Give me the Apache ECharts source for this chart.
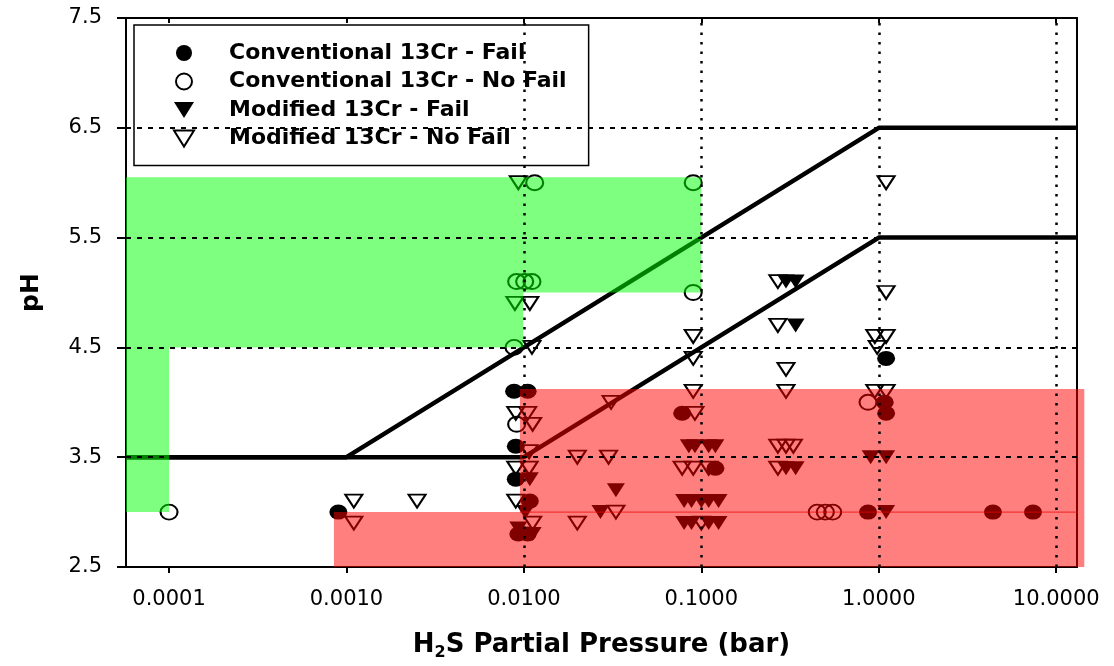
<!DOCTYPE html>
<html>
<head>
<meta charset="utf-8">
<script src="https://cdn.jsdelivr.net/npm/echarts@6/dist/echarts.min.js"></script>
<style>
  html, body { margin: 0; padding: 0; background: #ffffff; }
  #chart { width: 1114px; height: 666px; }
</style>
</head>
<body>
<div id="chart"></div>
<script>
// Axis ticks and ranges
const X_TICKS = [0.0001, 0.001, 0.01, 0.1, 1, 10];
const X_TICK_LABELS = ['0.0001', '0.0010', '0.0100', '0.1000', '1.0000', '10.0000'];
const Y_TICKS = [2.5, 3.5, 4.5, 5.5, 6.5, 7.5];
const X_RANGE = [5.72e-5, 13.1];
const Y_RANGE = [2.5, 7.5];
const PH_GRID = [3.5, 4.5, 5.5, 6.5];

// Test results: [H2S partial pressure (bar), pH]
const conventionalFail = [
  [0.0009, 3.0],
  [0.0088, 4.1], [0.0105, 4.1],
  [0.009, 3.6], [0.009, 3.3], [0.0108, 3.1],
  [0.0093, 2.8], [0.0105, 2.8],
  [0.078, 3.9], [0.12, 3.4],
  [1.1, 4.4], [1.08, 4.0], [1.1, 3.9],
  [0.87, 3.0], [4.4, 3.0], [7.4, 3.0]
];
const conventionalNoFail = [
  [0.0001, 3.0],
  [0.0115, 6.0], [0.09, 6.0],
  [0.0091, 5.1], [0.0101, 5.1], [0.0111, 5.1],
  [0.09, 5.0], [0.0088, 4.5], [0.0091, 3.8],
  [0.45, 3.0], [0.5, 3.0], [0.55, 3.0],
  [0.87, 4.0]
];
const modifiedFail = [
  [0.0108, 3.3], [0.0102, 3.0], [0.0093, 2.85], [0.0112, 2.8],
  [0.027, 3.0], [0.033, 3.2],
  [0.085, 3.6], [0.092, 3.6], [0.11, 3.6], [0.12, 3.6],
  [0.08, 3.1], [0.088, 3.1], [0.1, 3.1], [0.11, 3.1], [0.125, 3.1],
  [0.08, 2.9], [0.088, 2.9], [0.11, 2.9], [0.125, 2.9],
  [0.3, 5.1], [0.34, 5.1], [0.34, 4.7],
  [0.3, 3.4], [0.34, 3.4],
  [0.9, 3.5], [1.1, 3.5], [1.1, 3.0]
];
const modifiedNoFail = [
  [0.0011, 3.1], [0.0011, 2.9], [0.0025, 3.1],
  [0.0093, 6.0], [0.0089, 4.9], [0.0108, 4.9], [0.0111, 4.5],
  [0.009, 3.9], [0.0105, 3.9], [0.0112, 3.8], [0.0107, 3.55],
  [0.009, 3.4], [0.0107, 3.4], [0.009, 3.1], [0.0112, 2.9],
  [0.02, 2.9], [0.02, 3.5], [0.03, 3.5], [0.031, 4.0], [0.033, 3.0],
  [0.09, 4.6], [0.09, 4.4], [0.09, 4.1], [0.092, 3.9],
  [0.078, 3.4], [0.09, 3.4], [0.11, 3.4], [0.1, 2.9],
  [0.27, 5.1], [0.27, 4.7], [0.3, 4.3], [0.3, 4.1],
  [0.27, 3.6], [0.3, 3.6], [0.33, 3.6], [0.27, 3.4],
  [1.1, 6.0], [1.1, 5.0], [0.95, 4.6], [1.1, 4.6], [0.98, 4.5],
  [0.95, 4.1], [1.1, 4.1]
];

// Limit lines
const upperLimit = [[X_RANGE[0], 3.5], [0.001, 3.5], [1, 6.5], [X_RANGE[1], 6.5]];
const lowerLimit = [[X_RANGE[0], 3.5], [0.01, 3.5], [1, 5.5], [X_RANGE[1], 5.5]];

// Shaded zones (polygon vertices)
const safeZone = [
  [X_RANGE[0], 3.0], [0.0001, 3.0], [0.0001, 4.5], [0.0099, 4.5],
  [0.0099, 5.0], [0.1, 5.0], [0.1, 6.05], [X_RANGE[0], 6.05]
];
const failZone = [
  [0.00085, 2.5], [14.4, 2.5], [14.4, 4.12], [0.0095, 4.12],
  [0.0095, 3.0], [0.00085, 3.0]
];
const failSeam = [[0.0095, 3.0], [14.4, 3.0]];

const TRI_DOWN = 'path://M0,0L10,0L5,8Z';
const FONT = 'DejaVu Sans';

function zoneRenderer(vertices, fill) {
  return function (params, api) {
    if (params.dataIndex !== 0) return null;
    return {
      type: 'polygon',
      shape: { points: vertices.map(function (v) { return api.coord(v); }) },
      style: { fill: fill }
    };
  };
}

const chart = echarts.init(document.getElementById('chart'), null, { renderer: 'canvas' });

const xLabelFmt = function (v) {
  const i = Math.round(Math.log10(v)) + 4;
  return X_TICK_LABELS[i] !== undefined ? X_TICK_LABELS[i] : '';
};

chart.setOption({
  animation: false,
  backgroundColor: '#ffffff',
  grid: { left: 126, top: 18, width: 951, height: 550, containLabel: false },
  legend: {
    data: [
      { name: 'Conventional 13Cr - Fail', icon: 'circle' },
      { name: 'Conventional 13Cr - No Fail', icon: 'circle' },
      { name: 'Modified 13Cr - Fail', icon: TRI_DOWN },
      { name: 'Modified 13Cr - No Fail', icon: TRI_DOWN }
    ],
    orient: 'vertical',
    left: 134,
    top: 25,
    itemWidth: 80,
    itemHeight: 16,
    itemGap: 6.5,
    padding: [17, 22, 16, 39],
    backgroundColor: '#ffffff',
    borderColor: '#000000',
    borderWidth: 1.5,
    selectedMode: false,
    textStyle: { fontFamily: FONT, fontWeight: 'bold', fontSize: 22, lineHeight: 22, color: '#000000' }
  },
  xAxis: [
    {
      type: 'log', logBase: 10, min: X_RANGE[0], max: X_RANGE[1], position: 'bottom',
      axisLine: { show: true, onZero: false, lineStyle: { color: '#000', width: 2 } },
      axisTick: { show: true, customValues: X_TICKS, length: 6, lineStyle: { color: '#000', width: 2 } },
      axisLabel: { customValues: X_TICKS, formatter: xLabelFmt, fontFamily: FONT, fontSize: 21, color: '#000', margin: 22 },
      splitLine: { show: false },
      name: 'H{s|2}S Partial Pressure (bar)',
      nameLocation: 'middle',
      nameGap: 62,
      nameTextStyle: {
        fontFamily: FONT, fontWeight: 'bold', fontSize: 26, color: '#000', lineHeight: 32,
        rich: { s: { fontFamily: FONT, fontWeight: 'bold', fontSize: 16, color: '#000', verticalAlign: 'bottom' } }
      }
    },
    {
      type: 'log', logBase: 10, min: X_RANGE[0], max: X_RANGE[1], position: 'top',
      axisLine: { show: true, onZero: false, lineStyle: { color: '#000', width: 2 } },
      axisTick: { show: true, inside: true, customValues: X_TICKS, length: 5, lineStyle: { color: '#000', width: 2 } },
      axisLabel: { show: false },
      splitLine: { show: false }
    }
  ],
  yAxis: [
    {
      type: 'value', min: Y_RANGE[0], max: Y_RANGE[1], position: 'left',
      axisLine: { show: true, onZero: false, lineStyle: { color: '#000', width: 2 } },
      axisTick: { show: true, customValues: Y_TICKS, length: 9, lineStyle: { color: '#000', width: 2 } },
      axisLabel: { customValues: Y_TICKS, formatter: function (v) { return v.toFixed(1); }, fontFamily: FONT, fontSize: 21, color: '#000', margin: 24 },
      splitLine: { show: false },
      name: 'pH',
      nameLocation: 'middle',
      nameRotate: 90,
      nameGap: 82,
      nameTextStyle: { fontFamily: FONT, fontWeight: 'bold', fontSize: 25, color: '#000' }
    },
    {
      type: 'value', min: Y_RANGE[0], max: Y_RANGE[1], position: 'right',
      axisLine: { show: true, onZero: false, lineStyle: { color: '#000', width: 2 } },
      axisTick: { show: false },
      axisLabel: { show: false },
      splitLine: { show: false }
    }
  ],
  series: [
    {
      name: 'upper limit', type: 'line', data: upperLimit, showSymbol: false, silent: true, z: 2,
      lineStyle: { color: '#000', width: 4.5 },
      markLine: {
        silent: true, symbol: 'none', animation: false,
        label: { show: false },
        emphasis: { disabled: true },
        lineStyle: { color: '#000' },
        data: X_TICKS.map(function (v) { return { xAxis: v, lineStyle: { type: [2.5, 7], width: 2.5, color: '#000' } }; })
          .concat(PH_GRID.map(function (v) { return { yAxis: v, lineStyle: { type: [5, 6], width: 2, color: '#000' } }; }))
      }
    },
    {
      name: 'lower limit', type: 'line', data: lowerLimit, showSymbol: false, silent: true, z: 2,
      lineStyle: { color: '#000', width: 4.5 }
    },
    {
      name: 'Conventional 13Cr - Fail', type: 'scatter', data: conventionalFail, z: 2,
      symbol: 'circle', symbolSize: [18, 15],
      itemStyle: { color: '#000', opacity: 1 }
    },
    {
      name: 'Conventional 13Cr - No Fail', type: 'scatter', data: conventionalNoFail, z: 2,
      symbol: 'circle', symbolSize: [17, 15],
      itemStyle: { color: 'rgba(0,0,0,0)', borderColor: '#000', borderWidth: 2, opacity: 1 }
    },
    {
      name: 'Modified 13Cr - Fail', type: 'scatter', data: modifiedFail, z: 2,
      symbol: TRI_DOWN, symbolSize: [18, 14],
      itemStyle: { color: '#000', opacity: 1 }
    },
    {
      name: 'Modified 13Cr - No Fail', type: 'scatter', data: modifiedNoFail, z: 2,
      symbol: TRI_DOWN, symbolSize: [17, 13],
      itemStyle: { color: 'rgba(0,0,0,0)', borderColor: '#000', borderWidth: 2, opacity: 1 }
    },
    {
      name: 'safe zone', type: 'custom', coordinateSystem: 'cartesian2d', clip: false, silent: true, z: 3,
      data: safeZone, encode: { x: 0, y: 1 },
      renderItem: zoneRenderer(safeZone, 'rgba(0,255,0,0.5)')
    },
    {
      name: 'fail zone', type: 'custom', coordinateSystem: 'cartesian2d', clip: false, silent: true, z: 3,
      data: failZone, encode: { x: 0, y: 1 },
      renderItem: zoneRenderer(failZone, 'rgba(255,0,0,0.5)')
    },
    {
      name: 'fail seam', type: 'line', data: failSeam, showSymbol: false, silent: true, clip: false, z: 3,
      lineStyle: { color: 'rgba(235,0,0,0.75)', width: 1 }
    }
  ]
});
</script>
</body>
</html>
